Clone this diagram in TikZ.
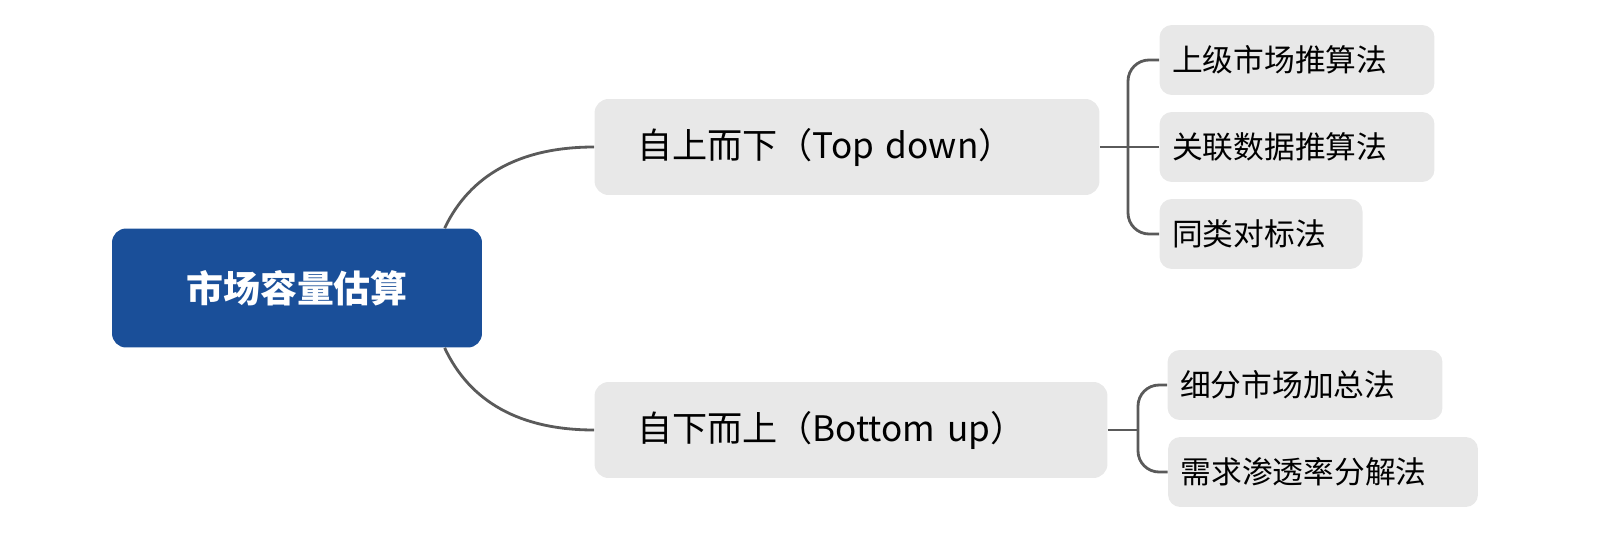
\documentclass[tikz,border=0pt]{standalone}
\usepackage{fontspec}
\newfontfamily\cjk{Noto Sans CJK SC}
\usetikzlibrary{positioning}
\definecolor{rootblue}{HTML}{1A4F99}
\definecolor{boxgray}{HTML}{E8E8E8}
\definecolor{linegray}{HTML}{5A5A5A}
\tikzset{
  rootbox/.style={fill=rootblue, rounded corners=8pt, text=white, font=\cjk\bfseries\fontsize{21}{25}\selectfont, minimum width=7.4cm, minimum height=2.38cm},
  midbox/.style={fill=boxgray, rounded corners=8pt, font=\cjk\fontsize{20}{24}\selectfont, minimum height=1.92cm, inner xsep=0.85cm, align=left},
  leafbox/.style={fill=boxgray, rounded corners=7pt, font=\cjk\fontsize{17.5}{21}\selectfont, minimum height=1.4cm, inner xsep=0.25cm, align=left},
  link/.style={draw=linegray, line width=1.6pt}
}
\begin{document}
\begin{tikzpicture}[x=0.02cm, y=-0.02cm]
    \useasboundingbox (0,0) rectangle (1618,554);
    % Nodes
    \node[rootbox] (root) at (297,288) {市场容量估算};
    \node[midbox, text width=8.4cm] (top) at (847,147) {自上而下（Top down）};
    \node[midbox, text width=8.56cm] (bot) at (851,430) {自下而上（Bottom up）};
    \node[leafbox, text width=5.0cm] (t1) at (1297,60) {上级市场推算法};
    \node[leafbox, text width=5.0cm] (t2) at (1297,147) {关联数据推算法};
    \node[leafbox, text width=3.56cm] (t3) at (1261,234) {同类对标法};
    \node[leafbox, text width=5.0cm] (b1) at (1305,385) {细分市场加总法};
    \node[leafbox, text width=5.7cm] (b2) at (1323,472) {需求渗透率分解法};
    % Branches from the root
    \draw[link] ([xshift=6.66cm]root.north west) .. controls (470,175) and (520,147) .. (top.west);
    \draw[link] ([xshift=6.66cm]root.south west) .. controls (470,402) and (520,430) .. (bot.west);
    % Brackets to the leaves
    \coordinate (tj) at (1128,147);
    \coordinate (bj) at (1138,430);
    \draw[link] (top.east) -- (t2.west);
    \draw[link, rounded corners=12pt] (t1.west) -| (tj) |- (t3.west);
    \draw[link] (bot.east) -- (bj);
    \draw[link, rounded corners=12pt] (b1.west) -| (bj) |- (b2.west);
\end{tikzpicture}
\end{document}
